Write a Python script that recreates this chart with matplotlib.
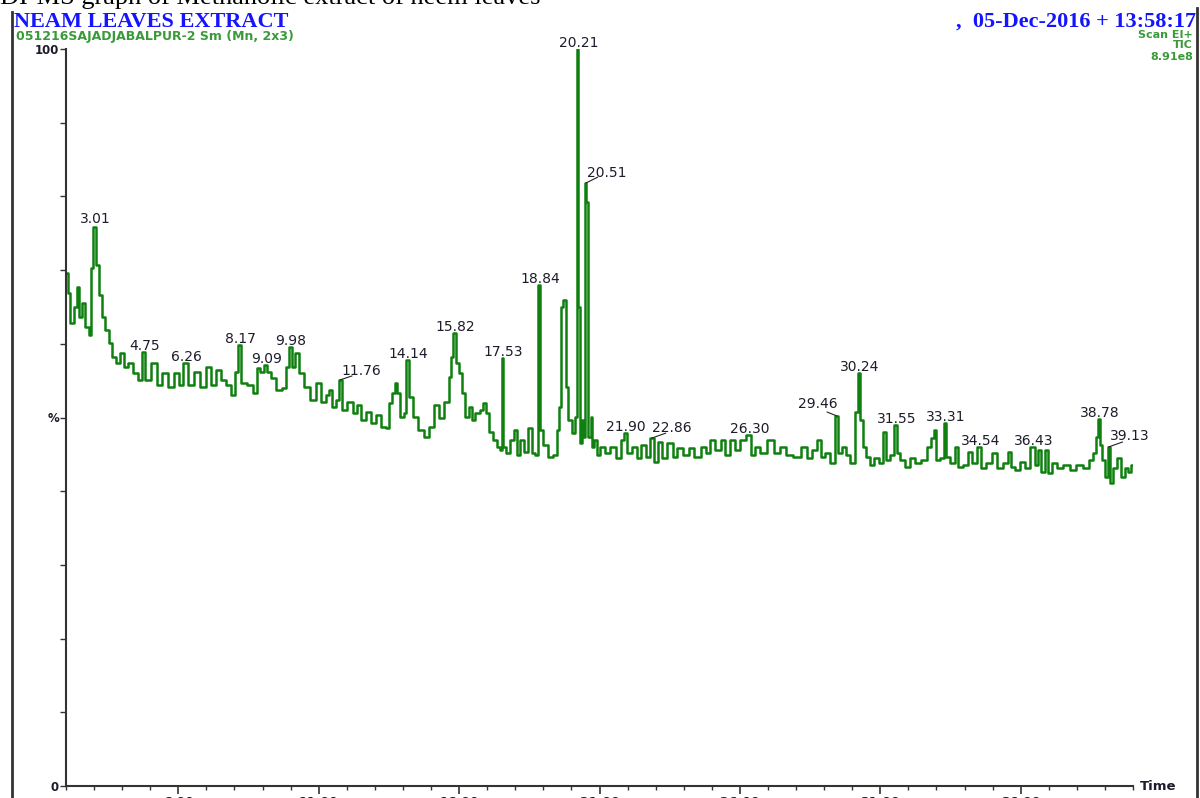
import numpy as np
import matplotlib
matplotlib.use("Agg")
import matplotlib.pyplot as plt
from matplotlib.lines import Line2D
from matplotlib.ticker import FixedLocator, MultipleLocator

# TIC chromatogram (retention time in min, relative abundance %)
rt = [2.05, 2.09, 2.23, 2.33, 2.44, 2.51, 2.62, 2.76, 2.87, 2.94,
      3.01, 3.15, 3.22, 3.33, 3.47, 3.58, 3.69, 3.86, 4.01, 4.11,
      4.29, 4.47, 4.65, 4.75, 4.90, 5.18, 5.29, 5.54, 5.72, 5.96,
      6.07, 6.26, 6.43, 6.68, 6.89, 7.07, 7.25, 7.42, 7.60, 7.78,
      7.96, 8.10, 8.17, 8.31, 8.56, 8.74, 8.85, 8.99, 9.09, 9.20,
      9.38, 9.56, 9.81, 9.88, 9.98, 10.09, 10.23, 10.34, 10.59, 10.80,
      10.98, 11.16, 11.34, 11.41, 11.52, 11.69, 11.76, 11.87, 12.12, 12.30,
      12.41, 12.58, 12.76, 12.94, 13.12, 13.30, 13.47, 13.54, 13.65, 13.76,
      13.83, 13.97, 14.08, 14.14, 14.26, 14.43, 14.61, 14.86, 14.97, 15.22,
      15.32, 15.57, 15.68, 15.75, 15.82, 15.93, 16.04, 16.14, 16.28, 16.39,
      16.50, 16.64, 16.82, 16.89, 17.00, 17.10, 17.28, 17.39, 17.49, 17.53,
      17.60, 17.74, 17.89, 17.99, 18.10, 18.24, 18.35, 18.53, 18.63, 18.78,
      18.81, 18.84, 18.95, 19.06, 19.24, 19.42, 19.52, 19.59, 19.67, 19.74,
      19.84, 19.95, 20.06, 20.17, 20.21, 20.27, 20.34, 20.41, 20.48, 20.51,
      20.56, 20.63, 20.73, 20.77, 20.84, 20.95, 21.12, 21.30, 21.48, 21.66,
      21.84, 21.90, 22.09, 22.26, 22.44, 22.55, 22.73, 22.86, 23.05, 23.15,
      23.33, 23.51, 23.69, 23.86, 24.11, 24.29, 24.47, 24.75, 24.86, 25.04,
      25.22, 25.40, 25.57, 25.75, 25.93, 26.11, 26.30, 26.46, 26.64, 26.82,
      27.14, 27.32, 27.53, 27.78, 28.03, 28.31, 28.49, 28.67, 28.85, 28.95,
      29.13, 29.31, 29.46, 29.56, 29.74, 29.84, 30.02, 30.16, 30.24, 30.34,
      30.45, 30.56, 30.70, 30.88, 31.05, 31.16, 31.27, 31.44, 31.55, 31.62,
      31.80, 31.98, 32.16, 32.33, 32.58, 32.76, 32.87, 32.94, 33.05, 33.22,
      33.31, 33.40, 33.58, 33.72, 33.83, 34.08, 34.19, 34.36, 34.54, 34.65,
      34.90, 35.07, 35.25, 35.50, 35.61, 35.72, 35.89, 36.07, 36.25, 36.43,
      36.57, 36.68, 36.78, 36.93, 37.03, 37.21, 37.39, 37.64, 37.85, 38.10,
      38.35, 38.53, 38.63, 38.70, 38.78, 38.88, 38.92, 39.06, 39.13, 39.20,
      39.35, 39.52, 39.63, 39.77, 39.88, 39.99]
abund = [69.6, 66.9, 62.8, 65.0, 67.7, 63.6, 65.5, 62.3, 61.2, 70.3,
         75.8, 70.7, 66.6, 63.6, 61.9, 60.1, 58.2, 57.4, 58.8, 56.9,
         57.4, 56.0, 55.1, 58.9, 55.1, 57.4, 54.4, 56.0, 54.1, 56.0,
         54.4, 57.4, 54.4, 56.2, 54.1, 56.9, 54.4, 56.4, 55.1, 54.4,
         53.1, 56.2, 59.8, 54.7, 54.4, 53.3, 56.7, 56.2, 57.1, 56.2,
         55.4, 53.7, 54.0, 56.9, 59.6, 56.9, 58.8, 56.0, 54.1, 52.4,
         54.7, 52.1, 53.1, 53.7, 51.4, 52.4, 55.1, 51.0, 52.1, 50.6,
         51.7, 49.7, 50.7, 49.3, 50.3, 48.7, 48.6, 52.0, 53.3, 54.7,
         53.3, 50.1, 50.6, 57.8, 52.8, 50.1, 48.3, 47.4, 48.7, 51.7,
         49.9, 52.1, 55.5, 58.2, 61.5, 57.4, 56.0, 53.3, 50.1, 51.4,
         49.7, 50.6, 51.0, 52.0, 50.6, 48.0, 46.9, 46.0, 45.6, 58.1,
         46.0, 45.2, 46.9, 48.3, 44.9, 46.9, 45.3, 48.6, 45.2, 44.9,
         56.0, 68.0, 48.3, 46.3, 44.6, 44.9, 48.3, 51.4, 65.0, 66.0,
         54.1, 49.7, 47.9, 50.1, 100.0, 65.0, 46.5, 49.7, 47.4, 81.8,
         79.3, 47.4, 50.1, 46.0, 46.9, 44.9, 46.0, 45.2, 46.0, 44.5,
         46.9, 47.9, 45.2, 46.0, 44.5, 46.3, 44.6, 47.2, 44.0, 46.7,
         44.5, 46.5, 44.6, 45.9, 44.9, 45.9, 44.6, 46.0, 45.2, 46.9,
         45.6, 46.9, 44.9, 46.9, 45.6, 46.9, 47.6, 44.9, 46.0, 45.2,
         46.9, 45.2, 46.0, 44.9, 44.6, 46.0, 44.5, 45.6, 46.9, 44.6,
         45.2, 43.8, 50.2, 45.2, 46.0, 44.9, 43.8, 50.7, 56.0, 49.7,
         46.0, 44.6, 43.6, 44.5, 43.8, 48.0, 44.2, 44.9, 49.0, 45.2,
         44.2, 43.3, 44.5, 43.8, 44.2, 46.0, 47.2, 48.3, 44.2, 44.5,
         49.3, 44.6, 43.8, 46.0, 43.3, 43.6, 45.3, 43.8, 46.0, 43.1,
         43.8, 45.2, 43.1, 43.8, 45.3, 43.3, 42.9, 44.0, 43.1, 46.0,
         43.6, 45.6, 42.6, 45.6, 42.5, 43.8, 43.1, 43.6, 42.9, 43.6,
         43.1, 44.2, 45.2, 47.4, 49.8, 46.3, 44.2, 41.9, 46.0, 41.1,
         43.1, 44.5, 41.9, 43.1, 42.6, 43.6]

peak_labels = ['3.01', '4.75', '6.26', '8.17', '9.09', '9.98', '11.76', '14.14',
               '15.82', '17.53', '18.84', '20.21', '20.51', '21.90', '22.86',
               '26.30', '29.46', '30.24', '31.55', '33.31', '34.54', '36.43',
               '38.78', '39.13']

x_ticks = [6, 11, 16, 21, 26, 31, 36]
x_ticklabels = ['6.00', '11.00', '16.00', '21.00', '26.00', '31.00', '36.00']
y_ticks = [0, 10, 20, 30, 40, 50, 60, 70, 80, 90, 100]
y_ticklabels = ['0', '', '', '', '', '%', '', '', '', '', '100']

# label placement for the annotated peaks (pixel offsets), leader lines where used
leaders = {'11.76': ((1, 5), (12, 4), 'left'),
           '20.51': ((1, 6), (12, 6), 'left'),
           '22.86': ((0, 6), (14, 5), 'left'),
           '29.46': ((1, 8), (-10, 4), 'right'),
           '39.13': ((1, 7), (14, 5), 'left')}

green = '#0f800f'
hdr_green = '#3a9a3a'
blue = '#1414ff'
ink = '#1c1c2a'

W, H = 1200, 798
fig = plt.figure(figsize=(12, 7.98), dpi=100)
ax = fig.add_axes([66 / W, 12 / H, 1067 / W, 737 / H])

ax.plot(rt, abund, color=green, lw=1.8, drawstyle='steps-mid')
ax.set_xlim(2.0, 40.0)
ax.set_ylim(0, 100)

for s in ['top', 'right']:
    ax.spines[s].set_visible(False)
for s in ['left', 'bottom']:
    ax.spines[s].set_color('#333333')
    ax.spines[s].set_linewidth(1.5)

ax.yaxis.set_major_locator(FixedLocator(y_ticks))
ax.set_yticklabels(y_ticklabels)
ax.tick_params(axis='y', direction='out', length=4, width=1, colors='#333333',
               labelcolor=ink, labelsize=8.5, pad=1)
for lab in ax.get_yticklabels():
    lab.set_fontweight('bold')

ax.xaxis.set_major_locator(FixedLocator(x_ticks))
ax.xaxis.set_minor_locator(MultipleLocator(1))
ax.set_xticklabels(x_ticklabels)
ax.tick_params(axis='x', which='major', direction='out', length=6, width=1.2,
               colors='#333333', labelcolor=ink, labelsize=9, pad=1)
ax.tick_params(axis='x', which='minor', direction='out', length=3, width=1,
               colors='#333333')
for lab in ax.get_xticklabels():
    lab.set_fontweight('bold')

rt_arr = np.array(rt)
for lbl in peak_labels:
    i = int(np.argmin(np.abs(rt_arr - float(lbl))))
    px, py = rt[i], abund[i]
    if lbl in leaders:
        toff, loff, ha = leaders[lbl]
        ax.annotate('', xy=(px, py), xytext=loff, textcoords='offset pixels',
                    arrowprops=dict(arrowstyle='-', color='#222222', lw=0.8,
                                    shrinkA=0, shrinkB=0))
        ax.annotate(lbl, xy=(px, py), xytext=toff, textcoords='offset pixels',
                    ha=ha, va='baseline', fontsize=10, color=ink)
    else:
        dy = 4 if lbl == '3.01' else 2
        ax.annotate(lbl, xy=(px, py), xytext=(1, dy), textcoords='offset pixels',
                    ha='center', va='baseline', fontsize=10, color=ink)

ax.text(1.006, 0.0, 'Time', transform=ax.transAxes, ha='left', va='center',
        fontsize=9.5, fontweight='bold', color=ink)

# header block of the instrument printout
fig.text(14 / W, 1 - 27 / H, 'NEAM LEAVES EXTRACT', family='Liberation Serif',
         fontweight='bold', fontsize=16, color=blue, va='baseline')
fig.text(16 / W, 1 - 40 / H, '051216SAJADJABALPUR-2 Sm (Mn, 2x3)',
         fontweight='bold', fontsize=9, color=hdr_green, va='baseline')
fig.text(1196 / W, 1 - 27 / H, ',  05-Dec-2016 + 13:58:17', family='Liberation Serif',
         fontweight='bold', fontsize=16, color=blue, va='baseline', ha='right')
fig.text(1193 / W, 1 - 38 / H, 'Scan EI+', fontweight='bold', fontsize=8,
         color=hdr_green, va='baseline', ha='right')
fig.text(1193 / W, 1 - 48 / H, 'TIC', fontweight='bold', fontsize=8,
         color=hdr_green, va='baseline', ha='right')
fig.text(1193 / W, 1 - 60 / H, '8.91e8', fontweight='bold', fontsize=8,
         color=hdr_green, va='baseline', ha='right')
fig.text(0 / W, 1 - 4 / H, 'DI-MS graph of Methanolic extract of neem leaves',
         family='Liberation Serif', fontsize=19, color='black', va='baseline')

# page frame lines
fig.add_artist(Line2D([12 / W, 12 / W], [0, 1 - 12 / H], color='#333333', lw=2))
fig.add_artist(Line2D([1197 / W, 1197 / W], [0, 1 - 8 / H], color='#333333', lw=2))

fig.savefig('out.png', dpi=100)
